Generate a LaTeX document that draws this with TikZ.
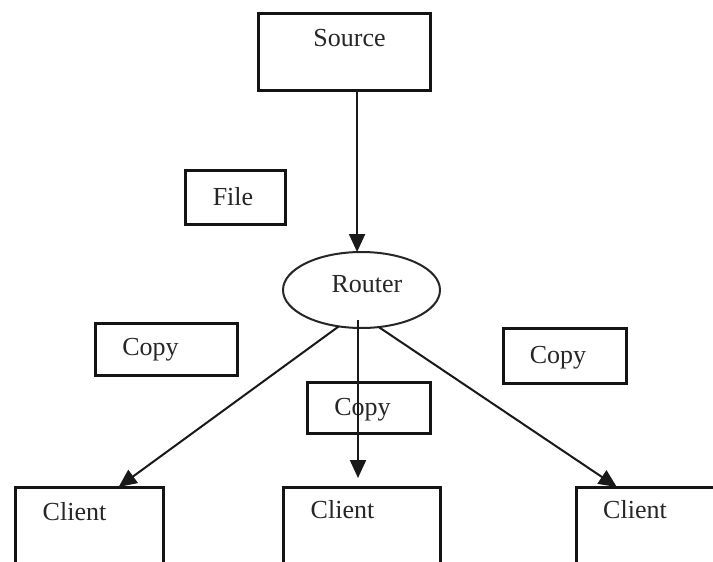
\documentclass[tikz,border=0pt]{standalone}
\usepackage{fontspec}
\setmainfont{Liberation Serif}
\usetikzlibrary{arrows.meta,calc,shapes.geometric}
\begin{document}
\begin{tikzpicture}[x=1pt,y=-1pt,
  box/.style={draw=black!92,line width=3pt,inner sep=0pt,outer sep=0pt},
  oval/.style={ellipse,draw=black!85,line width=2pt,inner sep=0pt,outer sep=0pt},
  lbl/.style={anchor=base,font=\fontsize{26}{30}\selectfont,text=black!85,inner sep=0pt},
  arr/.style={draw=black!90,line width=2pt,-{Triangle[length=18pt,width=16pt]}}]
\clip (0,0) rectangle (713,562);
\fill[white] (0,0) rectangle (713,562);
% boxes
\node[box,minimum width=172pt,minimum height=77pt] (src) at (344,51.5) {};
\node[box,minimum width=100pt,minimum height=54pt] (file) at (235,197) {};
\node[oval,minimum width=157pt,minimum height=76pt] (router) at (361.5,290) {};
\node[box,minimum width=142pt,minimum height=52pt] (copyl) at (166,349) {};
\node[box,minimum width=123pt,minimum height=51pt] (copym) at (368.5,407.5) {};
\node[box,minimum width=123pt,minimum height=55pt] (copyr) at (564.5,355.5) {};
\node[box,minimum width=148pt,minimum height=113pt] (cl) at (89,543.5) {};
\node[box,minimum width=157pt,minimum height=113pt] (cm) at (361.5,543.5) {};
\node[box,minimum width=157pt,minimum height=113pt] (cr) at (654.5,543.5) {};
% labels
\node[lbl] (srct) at (349.5,46) {Source};
\node[lbl] (filet) at (233,205) {File};
\node[lbl] (routert) at (367,292) {Router};
\node[lbl] (copylt) at (150.5,355) {Copy};
\node[lbl] (copymt) at (362.5,415) {Copy};
\node[lbl] (copyrt) at (558,363) {Copy};
\node[lbl] (clt) at (74.5,520) {Client};
\node[lbl] (cmt) at (342.5,518) {Client};
\node[lbl] (crt) at (635,518) {Client};
% connectors
\coordinate (s1) at ($(src.south west)!0.576!(src.south east)$);
\draw[arr] (s1) -- (s1 |- router.north);
\draw[arr] (router.238) -- ($(cl.north west)!0.70!(cl.north east)$);
\draw[arr] (router.295) -- ($(cr.north west)!0.26!(cr.north east)$);
\coordinate (m0) at (358,320);
\draw[arr,shorten >=9pt] (m0) -- (m0 |- cm.north);
\end{tikzpicture}
\end{document}
